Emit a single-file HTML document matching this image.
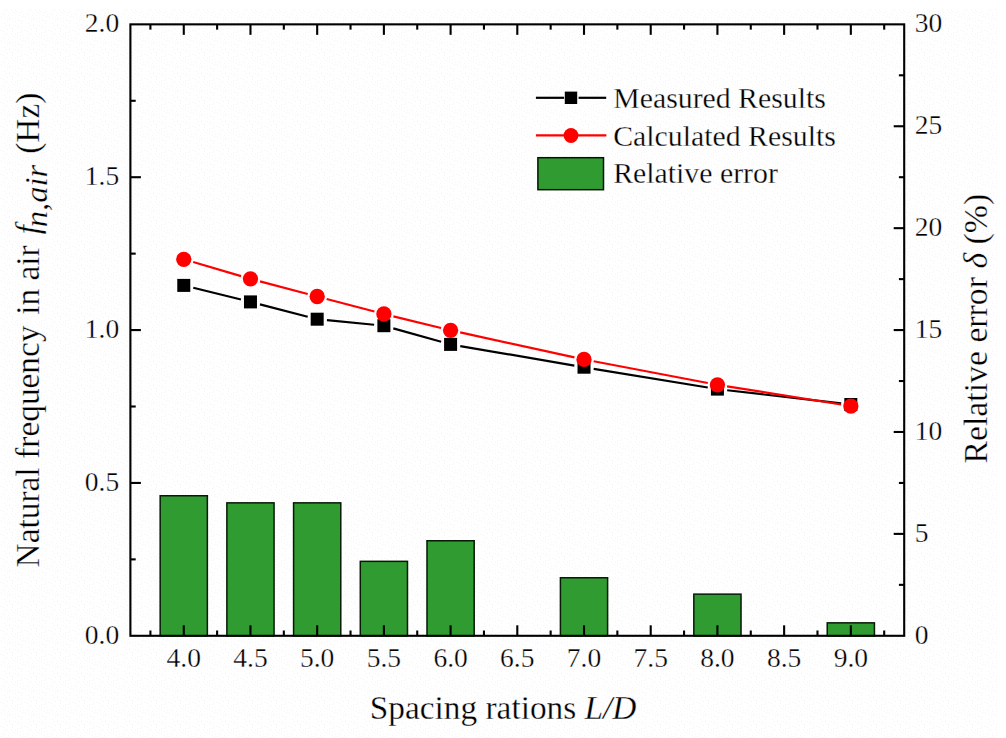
<!DOCTYPE html>
<html><head><meta charset="utf-8"><title>chart</title>
<style>
html,body{margin:0;padding:0;background:#fff;}
body{width:1006px;height:738px;overflow:hidden;}
svg{display:block;}
text{font-family:"Liberation Serif",serif;fill:#000;stroke:#fff;stroke-width:0.3px;}
.tk{font-size:27.5px;}
.ti{font-size:33.35px;}
.lg{font-size:29.8px;}
.it{font-style:italic;}
</style></head><body>
<svg width="1006" height="738" viewBox="0 0 1006 738">
<rect x="0" y="0" width="1006" height="738" fill="#ffffff"/>
<defs><pattern id="dz" width="24" height="24" patternUnits="userSpaceOnUse"><g fill="#f5f5f5"><rect x="10" y="4" width="1" height="1"/><rect x="12" y="20" width="1" height="1"/><rect x="1" y="2" width="1" height="1"/><rect x="17" y="3" width="1" height="1"/><rect x="11" y="18" width="1" height="1"/><rect x="1" y="16" width="1" height="1"/><rect x="6" y="1" width="1" height="1"/><rect x="2" y="13" width="1" height="1"/><rect x="13" y="2" width="1" height="1"/><rect x="17" y="13" width="1" height="1"/><rect x="1" y="18" width="1" height="1"/><rect x="3" y="7" width="1" height="1"/><rect x="20" y="20" width="1" height="1"/><rect x="18" y="1" width="1" height="1"/><rect x="18" y="18" width="1" height="1"/><rect x="9" y="13" width="1" height="1"/><rect x="4" y="17" width="1" height="1"/><rect x="9" y="17" width="1" height="1"/><rect x="21" y="5" width="1" height="1"/><rect x="18" y="20" width="1" height="1"/><rect x="6" y="11" width="1" height="1"/><rect x="22" y="2" width="1" height="1"/><rect x="19" y="6" width="1" height="1"/><rect x="15" y="21" width="1" height="1"/><rect x="11" y="9" width="1" height="1"/><rect x="7" y="5" width="1" height="1"/><rect x="22" y="7" width="1" height="1"/><rect x="15" y="10" width="1" height="1"/><rect x="23" y="14" width="1" height="1"/><rect x="9" y="19" width="1" height="1"/><rect x="4" y="15" width="1" height="1"/><rect x="22" y="11" width="1" height="1"/><rect x="19" y="15" width="1" height="1"/><rect x="8" y="15" width="1" height="1"/><rect x="22" y="21" width="1" height="1"/><rect x="19" y="3" width="1" height="1"/><rect x="15" y="1" width="1" height="1"/><rect x="6" y="9" width="1" height="1"/><rect x="4" y="23" width="1" height="1"/><rect x="12" y="15" width="1" height="1"/><rect x="2" y="5" width="1" height="1"/><rect x="14" y="12" width="1" height="1"/><rect x="17" y="8" width="1" height="1"/><rect x="4" y="13" width="1" height="1"/><rect x="12" y="7" width="1" height="1"/><rect x="4" y="2" width="1" height="1"/><rect x="5" y="4" width="1" height="1"/><rect x="7" y="21" width="1" height="1"/><rect x="15" y="18" width="1" height="1"/><rect x="9" y="0" width="1" height="1"/><rect x="17" y="11" width="1" height="1"/><rect x="22" y="16" width="1" height="1"/><rect x="21" y="23" width="1" height="1"/><rect x="12" y="12" width="1" height="1"/><rect x="20" y="12" width="1" height="1"/><rect x="14" y="5" width="1" height="1"/><rect x="3" y="10" width="1" height="1"/><rect x="6" y="19" width="1" height="1"/><rect x="12" y="4" width="1" height="1"/><rect x="20" y="8" width="1" height="1"/><rect x="15" y="14" width="1" height="1"/><rect x="9" y="2" width="1" height="1"/><rect x="0" y="6" width="1" height="1"/><rect x="7" y="17" width="1" height="1"/></g></pattern></defs>
<rect x="0" y="9" width="997" height="729" fill="url(#dz)"/>
<g fill="#309b31" stroke="#061a06" stroke-width="1.50">
<rect x="160.17" y="495.75" width="47.20" height="140.05"/>
<rect x="226.87" y="502.85" width="47.20" height="132.95"/>
<rect x="293.58" y="502.85" width="47.20" height="132.95"/>
<rect x="360.29" y="561.35" width="47.20" height="74.45"/>
<rect x="426.99" y="540.75" width="47.20" height="95.05"/>
<rect x="560.41" y="577.75" width="47.20" height="58.05"/>
<rect x="693.82" y="594.15" width="47.20" height="41.65"/>
<rect x="827.23" y="622.85" width="47.20" height="12.95"/>
</g>
<g stroke="#000" stroke-width="2.20" fill="none">
<line x1="193.28" y1="287.75" x2="240.96" y2="299.55"/>
<line x1="259.96" y1="304.36" x2="307.69" y2="316.74"/>
<line x1="326.93" y1="320.15" x2="374.13" y2="324.75"/>
<line x1="393.32" y1="328.35" x2="441.16" y2="341.75"/>
<line x1="460.25" y1="346.05" x2="574.35" y2="365.55"/>
<line x1="593.68" y1="368.79" x2="707.75" y2="387.51"/>
<line x1="727.16" y1="390.22" x2="841.10" y2="403.38"/>
</g>
<g fill="#000">
<rect x="177.27" y="278.90" width="13" height="13"/>
<rect x="243.97" y="295.40" width="13" height="13"/>
<rect x="310.68" y="312.70" width="13" height="13"/>
<rect x="377.39" y="319.20" width="13" height="13"/>
<rect x="444.09" y="337.90" width="13" height="13"/>
<rect x="577.51" y="360.70" width="13" height="13"/>
<rect x="710.92" y="382.60" width="13" height="13"/>
<rect x="844.33" y="398.00" width="13" height="13"/>
</g>
<g stroke="#ff0000" stroke-width="2.20" fill="none">
<line x1="193.17" y1="262.06" x2="241.07" y2="276.09"/>
<line x1="259.95" y1="281.36" x2="307.71" y2="293.99"/>
<line x1="326.66" y1="298.99" x2="374.41" y2="311.51"/>
<line x1="393.41" y1="316.33" x2="441.07" y2="327.97"/>
<line x1="460.17" y1="332.39" x2="574.43" y2="357.36"/>
<line x1="593.63" y1="361.28" x2="707.79" y2="382.97"/>
<line x1="727.10" y1="386.34" x2="841.16" y2="404.51"/>
</g>
<g fill="#ff0000">
<circle cx="183.77" cy="259.30" r="7.65"/>
<circle cx="250.47" cy="278.85" r="7.65"/>
<circle cx="317.18" cy="296.50" r="7.65"/>
<circle cx="383.89" cy="314.00" r="7.65"/>
<circle cx="450.59" cy="330.30" r="7.65"/>
<circle cx="584.01" cy="359.45" r="7.65"/>
<circle cx="717.42" cy="384.80" r="7.65"/>
<circle cx="850.83" cy="406.05" r="7.65"/>
</g>
<g stroke="#000" stroke-width="2.10" fill="none" stroke-linecap="butt">
<rect x="130.40" y="24.35" width="773.80" height="611.45"/>
<line x1="150.41" y1="635.80" x2="150.41" y2="630.50"/><line x1="150.41" y1="24.35" x2="150.41" y2="29.65"/>
<line x1="183.77" y1="635.80" x2="183.77" y2="625.30"/><line x1="183.77" y1="24.35" x2="183.77" y2="34.85"/>
<line x1="217.12" y1="635.80" x2="217.12" y2="630.50"/><line x1="217.12" y1="24.35" x2="217.12" y2="29.65"/>
<line x1="250.47" y1="635.80" x2="250.47" y2="625.30"/><line x1="250.47" y1="24.35" x2="250.47" y2="34.85"/>
<line x1="283.83" y1="635.80" x2="283.83" y2="630.50"/><line x1="283.83" y1="24.35" x2="283.83" y2="29.65"/>
<line x1="317.18" y1="635.80" x2="317.18" y2="625.30"/><line x1="317.18" y1="24.35" x2="317.18" y2="34.85"/>
<line x1="350.53" y1="635.80" x2="350.53" y2="630.50"/><line x1="350.53" y1="24.35" x2="350.53" y2="29.65"/>
<line x1="383.89" y1="635.80" x2="383.89" y2="625.30"/><line x1="383.89" y1="24.35" x2="383.89" y2="34.85"/>
<line x1="417.24" y1="635.80" x2="417.24" y2="630.50"/><line x1="417.24" y1="24.35" x2="417.24" y2="29.65"/>
<line x1="450.59" y1="635.80" x2="450.59" y2="625.30"/><line x1="450.59" y1="24.35" x2="450.59" y2="34.85"/>
<line x1="483.95" y1="635.80" x2="483.95" y2="630.50"/><line x1="483.95" y1="24.35" x2="483.95" y2="29.65"/>
<line x1="517.30" y1="635.80" x2="517.30" y2="625.30"/><line x1="517.30" y1="24.35" x2="517.30" y2="34.85"/>
<line x1="550.65" y1="635.80" x2="550.65" y2="630.50"/><line x1="550.65" y1="24.35" x2="550.65" y2="29.65"/>
<line x1="584.01" y1="635.80" x2="584.01" y2="625.30"/><line x1="584.01" y1="24.35" x2="584.01" y2="34.85"/>
<line x1="617.36" y1="635.80" x2="617.36" y2="630.50"/><line x1="617.36" y1="24.35" x2="617.36" y2="29.65"/>
<line x1="650.71" y1="635.80" x2="650.71" y2="625.30"/><line x1="650.71" y1="24.35" x2="650.71" y2="34.85"/>
<line x1="684.07" y1="635.80" x2="684.07" y2="630.50"/><line x1="684.07" y1="24.35" x2="684.07" y2="29.65"/>
<line x1="717.42" y1="635.80" x2="717.42" y2="625.30"/><line x1="717.42" y1="24.35" x2="717.42" y2="34.85"/>
<line x1="750.77" y1="635.80" x2="750.77" y2="630.50"/><line x1="750.77" y1="24.35" x2="750.77" y2="29.65"/>
<line x1="784.13" y1="635.80" x2="784.13" y2="625.30"/><line x1="784.13" y1="24.35" x2="784.13" y2="34.85"/>
<line x1="817.48" y1="635.80" x2="817.48" y2="630.50"/><line x1="817.48" y1="24.35" x2="817.48" y2="29.65"/>
<line x1="850.83" y1="635.80" x2="850.83" y2="625.30"/><line x1="850.83" y1="24.35" x2="850.83" y2="34.85"/>
<line x1="884.19" y1="635.80" x2="884.19" y2="630.50"/><line x1="884.19" y1="24.35" x2="884.19" y2="29.65"/>
<line x1="130.40" y1="559.37" x2="135.70" y2="559.37"/>
<line x1="130.40" y1="482.94" x2="140.90" y2="482.94"/>
<line x1="130.40" y1="406.51" x2="135.70" y2="406.51"/>
<line x1="130.40" y1="330.07" x2="140.90" y2="330.07"/>
<line x1="130.40" y1="253.64" x2="135.70" y2="253.64"/>
<line x1="130.40" y1="177.21" x2="140.90" y2="177.21"/>
<line x1="130.40" y1="100.78" x2="135.70" y2="100.78"/>
<line x1="904.20" y1="584.85" x2="898.90" y2="584.85"/>
<line x1="904.20" y1="533.89" x2="893.70" y2="533.89"/>
<line x1="904.20" y1="482.94" x2="898.90" y2="482.94"/>
<line x1="904.20" y1="431.98" x2="893.70" y2="431.98"/>
<line x1="904.20" y1="381.03" x2="898.90" y2="381.03"/>
<line x1="904.20" y1="330.07" x2="893.70" y2="330.07"/>
<line x1="904.20" y1="279.12" x2="898.90" y2="279.12"/>
<line x1="904.20" y1="228.17" x2="893.70" y2="228.17"/>
<line x1="904.20" y1="177.21" x2="898.90" y2="177.21"/>
<line x1="904.20" y1="126.26" x2="893.70" y2="126.26"/>
<line x1="904.20" y1="75.30" x2="898.90" y2="75.30"/>
</g>
<g class="tk">
<text x="119.2" y="643.70" text-anchor="end">0.0</text>
<text x="119.2" y="490.84" text-anchor="end">0.5</text>
<text x="119.2" y="337.97" text-anchor="end">1.0</text>
<text x="119.2" y="185.11" text-anchor="end">1.5</text>
<text x="119.2" y="32.25" text-anchor="end">2.0</text>
<text x="914.7" y="643.70">0</text>
<text x="914.7" y="541.79">5</text>
<text x="914.7" y="439.88">10</text>
<text x="914.7" y="337.97">15</text>
<text x="914.7" y="236.07">20</text>
<text x="914.7" y="134.16">25</text>
<text x="914.7" y="32.25">30</text>
<text x="183.77" y="667.3" text-anchor="middle">4.0</text>
<text x="250.47" y="667.3" text-anchor="middle">4.5</text>
<text x="317.18" y="667.3" text-anchor="middle">5.0</text>
<text x="383.89" y="667.3" text-anchor="middle">5.5</text>
<text x="450.59" y="667.3" text-anchor="middle">6.0</text>
<text x="517.30" y="667.3" text-anchor="middle">6.5</text>
<text x="584.01" y="667.3" text-anchor="middle">7.0</text>
<text x="650.71" y="667.3" text-anchor="middle">7.5</text>
<text x="717.42" y="667.3" text-anchor="middle">8.0</text>
<text x="784.13" y="667.3" text-anchor="middle">8.5</text>
<text x="850.83" y="667.3" text-anchor="middle">9.0</text>
</g>
<text class="ti" x="369.8" y="719.0" xml:space="preserve">Spacing rations <tspan class="it">L/D</tspan></text>
<text class="ti" transform="translate(38.6,567.4) rotate(-90)" xml:space="preserve">Natural<tspan dx="0.4"> frequency</tspan><tspan dx="2.4"> in</tspan><tspan dx="-0.1"> air</tspan><tspan dx="2.9"> </tspan><tspan class="it">f</tspan><tspan class="it" style="font-size:32.6px" dx="-2.3" dy="8.7">n,air</tspan><tspan dx="2.7" dy="-8.7"> (Hz)</tspan></text>
<text class="ti" style="font-size:33.75px" transform="translate(986.5,463.5) rotate(-90)" xml:space="preserve">Relative error <tspan class="it">δ</tspan> (%)</text>
<g stroke="#000" stroke-width="2.2"><line x1="535.9" y1="97.8" x2="564.1" y2="97.8"/><line x1="578.6" y1="97.8" x2="606.2" y2="97.8"/></g>
<rect x="564.8" y="91.6" width="12.4" height="12.4" fill="#000"/>
<g stroke="#ff0000" stroke-width="2.2"><line x1="535.9" y1="135.4" x2="606.4" y2="135.4"/></g>
<circle cx="571" cy="135.5" r="7.4" fill="#ff0000"/>
<rect x="537.9" y="157.7" width="65.6" height="32" fill="#309b31" stroke="#041404" stroke-width="1.5"/>
<g class="lg">
<text x="613.2" y="108.2">Measured Results</text>
<text x="613.2" y="145.7">Calculated Results</text>
<text x="613.2" y="183.2">Relative error</text>
</g>
</svg>
</body></html>
